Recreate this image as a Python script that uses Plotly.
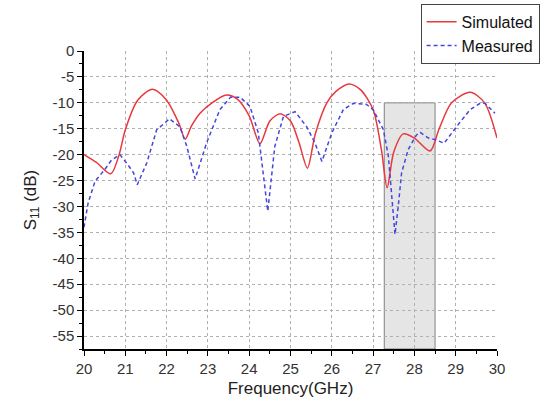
import plotly.graph_objects as go

sim_x = [20.0, 20.3, 20.65, 20.85, 21.0, 21.3, 21.66, 22.0, 22.3, 22.45, 22.6, 22.81, 23.1, 23.45, 23.7,
         24.0, 24.26, 24.5, 24.75, 25.0, 25.2, 25.41, 25.6, 25.88, 26.1, 26.42, 26.7, 27.0, 27.2, 27.34,
         27.5, 27.73, 28.0, 28.38, 28.6, 28.9, 29.35, 29.7, 30.0]
sim_y = [-20.0, -21.5, -23.7, -20.0, -15.2, -9.5, -7.4, -9.5, -14.0, -17.0, -14.5, -12.0, -10.0, -8.5, -9.2,
         -12.5, -17.9, -13.5, -12.1, -13.5, -17.5, -22.6, -16.0, -10.0, -7.8, -6.35, -7.5, -11.3, -19.0, -26.4,
         -19.5, -16.0, -16.8, -19.3, -15.0, -10.0, -7.95, -10.0, -16.8]

meas_x = [20.0, 20.1, 20.27, 20.5, 20.67, 20.87, 21.03, 21.2, 21.29, 21.52, 21.76, 22.07, 22.32, 22.49,
          22.69, 22.97, 23.29, 23.55, 23.78, 24.02, 24.22, 24.45, 24.62, 24.83, 25.11, 25.39, 25.59, 25.76,
          26.0, 26.28, 26.52, 26.84, 27.0, 27.25, 27.37, 27.49, 27.53, 27.61, 27.69, 27.85, 28.05, 28.14,
          28.34, 28.5, 28.72, 29.02, 29.35, 29.59, 29.71, 29.95]
meas_y = [-34.0, -29.3, -25.1, -22.9, -21.0, -20.0, -21.6, -23.5, -25.8, -21.6, -15.2, -13.1, -14.6, -18.4,
          -24.7, -17.7, -11.3, -8.9, -8.9, -10.7, -15.8, -30.9, -18.4, -12.6, -11.7, -14.6, -17.7, -21.3,
          -15.8, -11.3, -10.1, -10.3, -11.3, -15.2, -20.3, -31.2, -35.4, -29.9, -23.5, -19.0, -16.2, -15.7,
          -16.8, -17.1, -17.8, -14.6, -11.3, -10.1, -10.1, -12.0]

y_ticks = [0, -5, -10, -15, -20, -25, -30, -35, -40, -45, -50, -55]
x_ticks = [20, 21, 22, 23, 24, 25, 26, 27, 28, 29, 30]
band = [27.27, 28.5]
band_top = -10

fig = go.Figure()
fig.add_trace(go.Scatter(x=sim_x, y=sim_y, name="Simulated", mode="lines",
                         line=dict(color="#e8383d", width=1.5, shape="spline", smoothing=0.8)))
fig.add_trace(go.Scatter(x=meas_x, y=meas_y, name="Measured", mode="lines",
                         line=dict(color="#4545e0", width=1.5, dash="4px,3px")))

fig.add_shape(type="rect", x0=band[0], x1=band[1], y0=-57.5, y1=band_top, xref="x", yref="y",
              fillcolor="#e5e5e5", line=dict(color="#808080", width=1), layer="below")

font = "Liberation Sans, Arial, sans-serif"
fig.update_layout(
    width=555, height=400,
    margin=dict(l=84, r=58, t=51, b=51, autoexpand=False),
    paper_bgcolor="white", plot_bgcolor="white",
    font=dict(family=font, size=15, color="#333"),
    showlegend=True,
    legend=dict(x=0.815, y=1.158, xanchor="left", yanchor="top",
                bordercolor="#444", borderwidth=1, bgcolor="white",
                font=dict(size=16, color="#111"), tracegroupgap=0, itemwidth=30),
)
fig.update_xaxes(range=[20, 30], tickvals=x_ticks, ticktext=[str(v) for v in x_ticks],
                 showline=True, linecolor="black", linewidth=1.5, mirror=False,
                 ticks="outside", ticklen=5, tickcolor="black",
                 showgrid=True, gridcolor="#b0b0b0", griddash="dot", gridwidth=1,
                 minor=dict(ticks="outside", dtick=0.5, tick0=20, ticklen=3, tickcolor="black", showgrid=False),
                 zeroline=False,
                 title=dict(text="Frequency(GHz)", font=dict(size=17, color="#222"), standoff=6))
fig.update_yaxes(range=[-57.5, 0], tickvals=y_ticks, ticktext=[str(v) for v in y_ticks],
                 showline=True, linecolor="black", linewidth=1.5, mirror=False,
                 ticks="outside", ticklen=5, tickcolor="black",
                 showgrid=True, gridcolor="#b0b0b0", griddash="dot", gridwidth=1,
                 minor=dict(ticks="outside", dtick=2.5, tick0=0, ticklen=3, tickcolor="black", showgrid=False),
                 zeroline=False,
                 title=dict(text="S<sub>11</sub> (dB)", font=dict(size=17, color="#222"), standoff=12))

fig.write_html("out.html")
